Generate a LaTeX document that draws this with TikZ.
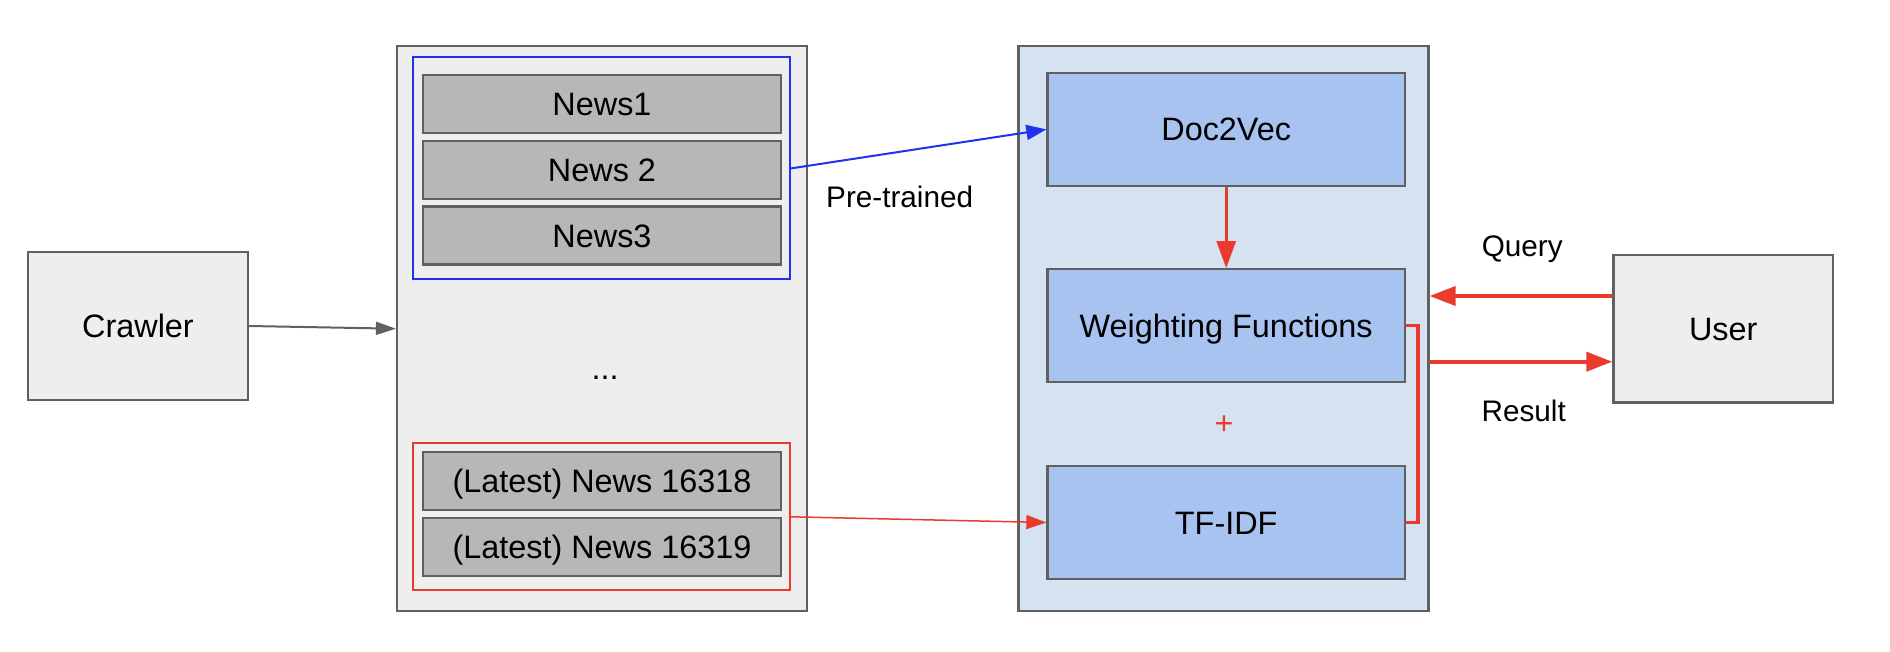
\documentclass[tikz,border=0pt]{standalone}
\usepackage{fontspec}
\setmainfont{Liberation Sans}
\usetikzlibrary{arrows.meta}
\definecolor{redc}{RGB}{234,58,44}
\definecolor{bluec}{RGB}{30,50,240}
\definecolor{edgec}{RGB}{96,96,96}
\definecolor{palegray}{RGB}{238,238,238}
\definecolor{newsgray}{RGB}{183,183,183}
\definecolor{paleblue}{RGB}{213,226,242}
\definecolor{boxblue}{RGB}{168,195,240}
\begin{document}
\begin{tikzpicture}[x=1pt,y=-1pt,
  every node/.style={font=\fontsize{32.4}{38}\selectfont, text height=23.2pt, text depth=0pt, inner sep=0pt},
  graybox/.style={draw=edgec, fill=palegray, line width=2.2pt},
  groupbox/.style={line width=2pt, minimum width=377pt},
  newsbox/.style={draw=edgec, fill=newsgray, line width=2.2pt, minimum width=358pt, minimum height=58pt},
  procbox/.style={draw=edgec, fill=boxblue, line width=2.2pt, minimum width=357.5pt, minimum height=113pt},
  lbl/.style={font=\fontsize{29.7}{36}\selectfont, anchor=base},
  grayarrow/.style={draw=edgec, line width=2pt, -{Triangle[length=20pt,width=13pt]}},
  bluearrow/.style={draw=bluec, line width=2pt, -{Triangle[length=20pt,width=15pt]}},
  thinred/.style={draw=redc, line width=1.5pt, -{Triangle[length=20pt,width=14pt]}},
  midred/.style={draw=redc, line width=3pt, -{Triangle[length=27pt,width=19pt]}},
  thickred/.style={draw=redc, line width=4pt, -{Triangle[length=26pt,width=19pt]}}
]
\useasboundingbox (0,0) rectangle (1890,652);

% left part
\node[graybox, minimum width=220pt, minimum height=148pt] (crawler) at (138,326) {Crawler};
\node[graybox, minimum width=410pt, minimum height=565pt] (store) at (602,328.7) {};
\node[groupbox, draw=bluec, minimum height=222pt] (pretrain) at (601.5,168.4) {};
\node[newsbox] (n1) at (602,104.2) {News1};
\node[newsbox] (n2) at (602,169.9) {News 2};
\node[newsbox] (n3) at (602,235.6) {News3};
\node[anchor=base] (dots) at (605,379) {...};
\node[groupbox, draw=redc, minimum height=147pt] (latest) at (601.5,516.8) {};
\node[newsbox] (n4) at (602,481.3) {(Latest) News 16318};
\node[newsbox] (n5) at (602,546.8) {(Latest) News 16319};

% right part
\node[draw=edgec, fill=paleblue, line width=2.2pt, minimum width=410pt, minimum height=565pt] (engine) at (1223.5,328.7) {};
\node[procbox] (d2v) at (1226.2,129.4) {Doc2Vec};
\node[procbox] (wf) at (1226.2,325.7) {Weighting Functions};
\node[procbox] (tfidf) at (1226.2,522.5) {TF-IDF};
\node[text=redc] (plus) at (1224,423) {+};
\node[graybox, minimum width=219.5pt, minimum height=147.5pt] (user) at (1723.2,328.7) {User};

% labels
\node[lbl, anchor=base west] (pt) at (826,207.3) {Pre-trained};
\node[lbl] (q) at (1522.2,257) {Query};
\node[lbl] (r) at (1523.7,421.2) {Result};

% connectors
\draw[grayarrow] (crawler.east) -- (store.west);
\draw[bluearrow] (pretrain.east) -- (d2v.west);
\draw[thinred] (latest.east) -- (tfidf.west);
\draw[midred] (d2v.south) -- (wf.north);
\draw[draw=redc, line width=3.2pt] (wf.east) -- ++(12,0) |- (tfidf.east);
\draw[thickred] ([yshift=32.7pt]user.west) -- ([yshift=32.7pt]engine.east);
\draw[thickred] ([yshift=-33pt]engine.east) -- ([yshift=-33pt]user.west);
\end{tikzpicture}
\end{document}
